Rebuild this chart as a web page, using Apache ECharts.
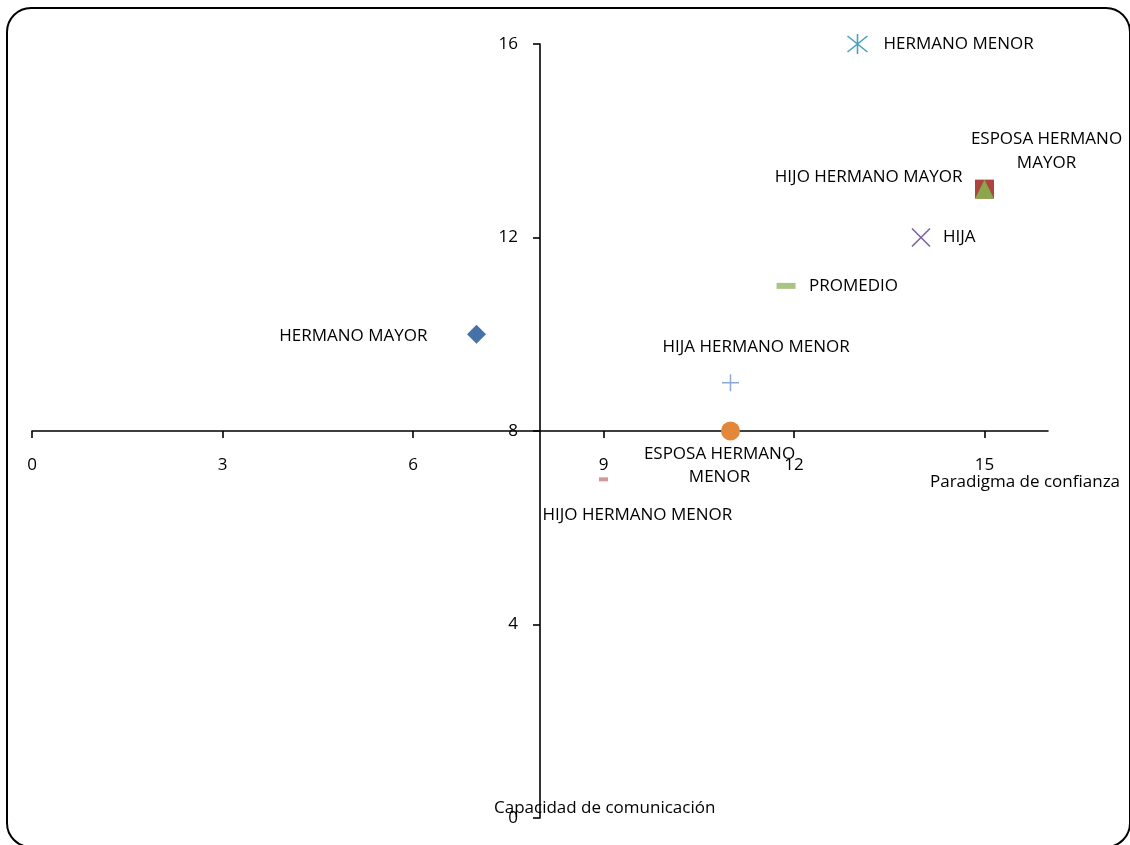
<!DOCTYPE html>
<html>
<head>
<meta charset="utf-8">
<script src="https://cdn.jsdelivr.net/npm/echarts@6/dist/echarts.min.js"></script>
<style>
  html, body { margin: 0; padding: 0; background: #fff; }
  #chart { width: 1130px; height: 845px; }
</style>
</head>
<body>
<div id="chart"></div>
<script>
// Family members placed by trust paradigm (x) and communication capacity (y)
const names = [
  'HERMANO MAYOR',
  'HERMANO MENOR',
  'HIJO HERMANO MAYOR',
  'ESPOSA HERMANO MAYOR',
  'HIJA',
  'PROMEDIO',
  'HIJA HERMANO MENOR',
  'ESPOSA HERMANO MENOR',
  'HIJO HERMANO MENOR'
];
const confianza = [7, 13, 15, 15, 14, 11.875, 11, 11, 9];
const comunicacion = [10, 16, 13, 13, 12, 11, 9, 8, 7];

const xTicks = [0, 3, 6, 9, 12, 15];
const yTicks = [0, 4, 8, 12, 16];
const crossX = 8;  // where the vertical axis crosses
const crossY = 8;  // where the horizontal axis crosses

const FONT = '"Open Sans", sans-serif';

// Marker shapes for the line-style symbols
const ASTERISK = 'path://M10,0L10,20M1,2L19,18M1,18L19,2';
const CROSS = 'path://M0,0L20,20M20,0L0,20';
const PLUS = 'path://M10,0L10,20M0,10L20,10';

// Per-series look: symbol, colours and where its label sits
const looks = [
  { symbol: 'diamond', size: 19, fill: '#4672AA',
    label: { align: 'right', offset: [-49, 2] } },
  { symbol: ASTERISK, size: 20, stroke: '#47A1BC', lw: 1.6,
    label: { align: 'left', offset: [26, 0] } },
  { symbol: 'rect', size: 19, fill: '#AC4540',
    label: { align: 'right', offset: [-22, -12] } },
  { symbol: 'triangle', size: 19, fill: '#8AA84B',
    label: { align: 'center', offset: [62, -38], lineHeight: 24, text: 'ESPOSA HERMANO\nMAYOR' } },
  { symbol: CROSS, size: 18, stroke: '#7E62A0', lw: 1.6,
    label: { align: 'left', offset: [22, 0] } },
  { symbol: 'rect', size: [19, 6], fill: '#A8C585',
    label: { align: 'left', offset: [23, 0] } },
  { symbol: PLUS, size: 17, stroke: '#8EA8D8', lw: 1.5,
    label: { align: 'left', offset: [-68, -35] } },
  { symbol: 'circle', size: 19, fill: '#E3883A',
    label: { align: 'center', offset: [-11, 35], lineHeight: 23, text: 'ESPOSA HERMANO\nMENOR' } },
  { symbol: 'rect', size: [9, 4], fill: '#D49699',
    label: { align: 'left', offset: [-61, 36] } }
];

const series = names.map((name, i) => {
  const lk = looks[i];
  const itemStyle = lk.stroke
    ? { color: 'rgba(0,0,0,0)', borderColor: lk.stroke, borderWidth: lk.lw, opacity: 1 }
    : { color: lk.fill, opacity: 1 };
  return {
    name: name,
    type: 'scatter',
    symbol: lk.symbol,
    symbolSize: lk.size,
    itemStyle: itemStyle,
    z: 2 + i,
    data: [[confianza[i], comunicacion[i]]],
    label: {
      show: true,
      position: 'inside',
      align: lk.label.align,
      verticalAlign: 'middle',
      offset: lk.label.offset,
      lineHeight: lk.label.lineHeight || 20,
      formatter: () => lk.label.text || name,
      color: '#000',
      fontFamily: FONT,
      fontSize: 17
    },
    emphasis: { disabled: true },
    silent: true
  };
});

const chart = echarts.init(document.getElementById('chart'), null, { renderer: 'canvas' });

const grid = { left: 32, right: 82, top: 44, bottom: 27 };
const plotH = 845 - grid.top - grid.bottom;
const plotW = 1130 - grid.left - grid.right;
const yMax = 16, xMax = 16;

chart.setOption({
  animation: false,
  backgroundColor: '#fff',
  grid: grid,
  xAxis: {
    type: 'value',
    min: 0, max: xMax, interval: 3,
    position: 'bottom',
    offset: -plotH * crossY / yMax,
    axisLine: { onZero: false, lineStyle: { color: '#000', width: 1.6 } },
    axisTick: { show: true, inside: false, length: 7, customValues: xTicks,
      lineStyle: { color: '#000', width: 1.6 } },
    axisLabel: { customValues: xTicks, margin: 26, color: '#000',
      fontFamily: FONT, fontSize: 17 },
    splitLine: { show: false }
  },
  yAxis: {
    type: 'value',
    min: 0, max: yMax, interval: 4,
    position: 'left',
    offset: -plotW * crossX / xMax,
    axisLine: { onZero: false, lineStyle: { color: '#000', width: 1.6 } },
    axisTick: { show: true, length: 7, customValues: yTicks,
      lineStyle: { color: '#000', width: 1.6 } },
    axisLabel: { customValues: yTicks, margin: 22, color: '#000',
      fontFamily: FONT, fontSize: 17 },
    splitLine: { show: false }
  },
  series: series,
  graphic: [
    {
      type: 'rect', silent: true, z: 100,
      shape: { x: 7, y: 8, width: 1123, height: 839, r: 24 },
      style: { fill: 'none', stroke: '#000', lineWidth: 2 }
    },
    {
      type: 'text', silent: true, z: 100,
      x: 930, y: 482,
      style: { text: 'Paradigma de confianza', fill: '#000',
        font: '17px ' + FONT, textVerticalAlign: 'middle' }
    },
    {
      type: 'text', silent: true, z: 100,
      x: 494, y: 808,
      style: { text: 'Capacidad de comunicación', fill: '#000',
        font: '17px ' + FONT, textVerticalAlign: 'middle' }
    }
  ]
});
</script>
</body>
</html>
